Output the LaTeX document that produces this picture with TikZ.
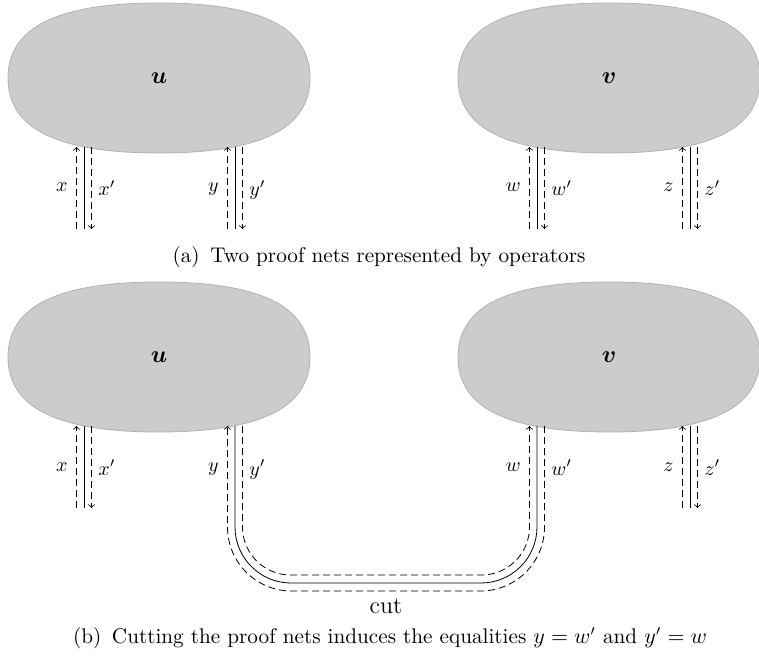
\documentclass[tikz,border=0pt]{standalone}
\usepackage{amsmath}
\usepackage{tikz}
\usetikzlibrary{arrows,positioning}
\usepackage{xcolor}
\definecolor{netgray}{RGB}{204,204,204}
\definecolor{netedge}{RGB}{178,178,178}
\tikzstyle{net} = [draw=netedge, fill=netgray, thin]
\tikzstyle{wire} = [thin, color=black]
\tikzstyle{dual} = [thin, color=black, dash pattern=on 3.5pt off 2pt, ->, >=to]

\begin{document}
\begin{tikzpicture}[x=0.5pt, y=-0.5pt]
\useasboundingbox (0,0) rectangle (759,667);

% Operators
\foreach \nm/\cx/\cy/\lb in {ua/159/78/u, va/609/78/v, ub/159/357/u, vb/609/357/v} {
  \draw[net] (\cx+151,\cy) .. controls (\cx+151,\cy-51) and (\cx+101,\cy-75) .. (\cx,\cy-75)
    .. controls (\cx-101,\cy-75) and (\cx-151,\cy-51) .. (\cx-151,\cy)
    .. controls (\cx-151,\cy+51) and (\cx-101,\cy+75) .. (\cx,\cy+75)
    .. controls (\cx+101,\cy+75) and (\cx+151,\cy+51) .. (\cx+151,\cy) -- cycle;
  \node[font=\large] (\nm) at (\cx,\cy) {$\boldsymbol{\lb}$};
}

% Ports
\foreach \nm/\px/\py/\lb in {x/84/147/x, y/235/147/y, w/537/147/w, z/690/147/z,
                             xb/84/426/x, yb/235/426/y, wb/537/426/w, zb/690/426/z} {
  \coordinate (\nm t) at (\px,\py);
  \coordinate (\nm b) at (\px,\py+82);
  \node[anchor=base east, inner sep=0] (\nm l) at (\px-16,\py+45) {$\lb$};
  \node[anchor=base west, inner sep=0] (\nm r) at (\px+14,\py+49) {$\lb'$};
}

% Free wires
\foreach \nm in {x, y, w, z, xb, zb} {
  \draw[dual] ([xshift=-3.75pt]\nm b) -- ([xshift=-3.75pt]\nm t);
  \draw[wire] (\nm t) -- (\nm b);
  \draw[dual] ([xshift=3.75pt]\nm t) -- ([xshift=3.75pt]\nm b);
}

% Cut between y and w
\coordinate (cl) at (235,583);
\coordinate (cr) at (537,583);
\draw[wire, rounded corners=28pt] (ybt) -- (cl) -- (cr) -- (wbt);
\draw[dual, rounded corners=32pt] ([xshift=3.75pt]wbt) -- ([xshift=3.75pt,yshift=-4pt]cr)
  -- ([xshift=-3.75pt,yshift=-4pt]cl) -- ([xshift=-3.75pt]ybt);
\draw[dual, rounded corners=24pt] ([xshift=3.75pt]ybt) -- ([xshift=3.75pt,yshift=4pt]cl)
  -- ([xshift=-3.75pt,yshift=4pt]cr) -- ([xshift=-3.75pt]wbt);
\node[font=\large] (cut) at (386,606) {cut};

% Captions
\node[font=\fontsize{10.6}{13}\selectfont] (capa) at (379,257) {(a)\enspace Two proof nets represented by operators};
\node[font=\fontsize{10.6}{13}\selectfont] (capb) at (390,638) {(b)\enspace Cutting the proof nets induces the equalities $y=w'$ and $y'=w$};
\end{tikzpicture}
\end{document}
